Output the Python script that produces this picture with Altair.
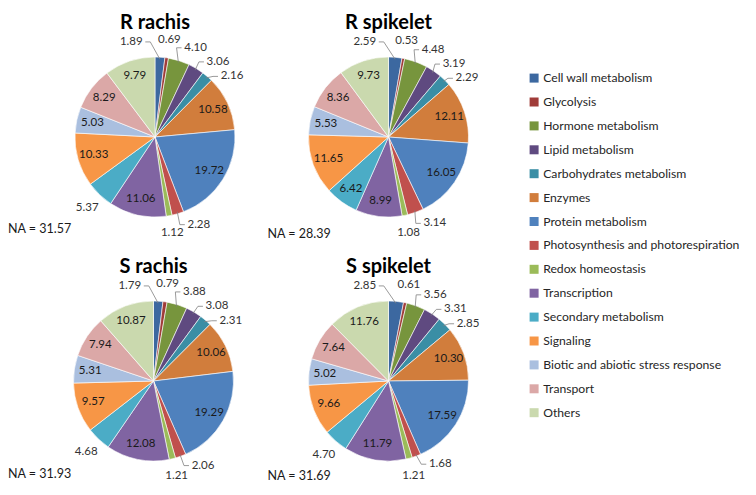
import math
import altair as alt
import pandas as pd

# ---------------- data ----------------
categories = [
    "Cell wall metabolism", "Glycolysis", "Hormone metabolism", "Lipid metabolism",
    "Carbohydrates metabolism", "Enzymes", "Protein metabolism",
    "Photosynthesis and photorespiration", "Redox homeostasis", "Transcription",
    "Secondary metabolism", "Signaling", "Biotic and abiotic stress response",
    "Transport", "Others",
]
r_rachis = [1.89, 0.69, 4.10, 3.06, 2.16, 10.58, 19.72, 2.28, 1.12, 11.06, 5.37, 10.33, 5.03, 8.29, 9.79]
r_spikelet = [2.59, 0.53, 4.48, 3.19, 2.29, 12.11, 16.05, 3.14, 1.08, 8.99, 6.42, 11.65, 5.53, 8.36, 9.73]
s_rachis = [1.79, 0.79, 3.88, 3.08, 2.31, 10.06, 19.29, 2.06, 1.21, 12.08, 4.68, 9.57, 5.31, 7.94, 10.87]
s_spikelet = [2.85, 0.61, 3.56, 3.31, 2.85, 10.30, 17.59, 1.68, 1.21, 11.79, 4.70, 9.66, 5.02, 7.64, 11.76]
panel_titles = ["R rachis", "R spikelet", "S rachis", "S spikelet"]
na_values = [31.57, 28.39, 31.93, 31.69]
series = [r_rachis, r_spikelet, s_rachis, s_spikelet]

# ---------------- style / layout ----------------
colors = [
    "#3C68A0", "#A03C39", "#77953D", "#5F4A80", "#3A8EA5", "#D17D3C",
    "#4F81BD", "#C0504D", "#9BBB59", "#8064A2", "#4BACC6", "#F79646",
    "#AABFDF", "#DBA8A7", "#CAD9AE",
]
FONT = "Lato"
W, H = 740, 479
R = 80          # pie radius
IN_R = 64       # radius of inside labels
OUT_R = 98      # radius of outside labels
BOX_H = 14
LABEL_SIZE = 11.5
INSIDE_MIN = {"Secondary metabolism": 6.0}
DEFAULT_INSIDE_MIN = 5.0
centers = [(147, 129), (380.5, 129), (145.5, 373), (380.5, 373)]
na_off = [(-147, 92), (-121, 97), (-145.5, 93), (-121, 95)]
TITLE_DY = -114

arc_rows, in_rows, out_rows, lead_rows, title_rows, na_rows = [], [], [], [], [], []
lead_id = 0


def box_pos(o):
    return OUT_R * math.sin(o["ang"]), -OUT_R * math.cos(o["ang"])


def overlap(a, b):
    ax, ay = box_pos(a)
    bx, by = box_pos(b)
    return abs(ax - bx) < (a["w"] + b["w"]) / 2 and abs(ay - by) < BOX_H


def place_group(group, placed, direction):
    step = direction * math.radians(0.5)
    for o in group:
        if not o["fixed"]:
            n = 0
            while any(overlap(o, q) for q in placed) and n < 120:
                o["ang"] += step
                n += 1
        placed.append(o)


for p, values in enumerate(series):
    cx, cy = centers[p]
    total = sum(values)
    cum = 0.0
    mids = []
    for i, v in enumerate(values):
        f0 = cum / total
        cum += v
        f1 = cum / total
        arc_rows.append(dict(category=categories[i], f0=f0, f1=f1, cx=cx, cy=cy))
        mids.append((f0 + f1) * math.pi)
    outs = []
    for i, v in enumerate(values):
        txt = f"{v:.2f}"
        am = mids[i]
        if v >= INSIDE_MIN.get(categories[i], DEFAULT_INSIDE_MIN):
            in_rows.append(dict(text=txt, x=cx + IN_R * math.sin(am), y=cy - IN_R * math.cos(am)))
        else:
            outs.append(dict(i=i, text=txt, am=am, ang=am, fixed=False, w=len(txt) * 6.0 + 2))
    if outs and outs[0]["i"] == 0:
        outs[0]["ang"] = math.radians(-14)
        outs[0]["fixed"] = True

    # labels are pushed away from 12 and 6 o'clock, toward the horizontal
    deg = lambda o: math.degrees(o["am"])
    upper_right = [o for o in outs if deg(o) < 90]
    lower_right = [o for o in outs if 90 <= deg(o) < 180]
    lower_left = [o for o in outs if 180 <= deg(o) < 270]
    upper_left = [o for o in outs if deg(o) >= 270]
    placed = []
    place_group(upper_right, placed, +1)
    place_group(list(reversed(lower_right)), placed, -1)
    place_group(lower_left, placed, +1)
    place_group(list(reversed(upper_left)), placed, -1)

    for o in outs:
        dx, dy = box_pos(o)
        lx, ly = cx + dx, cy + dy
        out_rows.append(dict(text=o["text"], x=lx, y=ly))
        if o["fixed"] or abs(o["ang"] - o["am"]) > math.radians(4):
            sx = cx + (R - 2) * math.sin(o["am"])
            sy = cy - (R - 2) * math.cos(o["am"])
            if lx > sx:
                start = lx - o["w"] / 2 - 1
                elbow = start - 5
            else:
                start = lx + o["w"] / 2 + 1
                elbow = start + 5
            for k, (px, py) in enumerate([(start, ly), (elbow, ly), (sx, sy)]):
                lead_rows.append(dict(lid=lead_id, k=k, x=px, y=py))
            lead_id += 1
    title_rows.append(dict(text=panel_titles[p], x=cx, y=cy + TITLE_DY))
    na_rows.append(dict(text=f"NA = {na_values[p]:.2f}", x=cx + na_off[p][0], y=cy + na_off[p][1]))

arc_df = pd.DataFrame(arc_rows)
in_df = pd.DataFrame(in_rows)
out_df = pd.DataFrame(out_rows)
lead_df = pd.DataFrame(lead_rows)
title_df = pd.DataFrame(title_rows)
na_df = pd.DataFrame(na_rows)

xs = alt.Scale(domain=[0, W], nice=False, zero=False)
ys = alt.Scale(domain=[0, H], nice=False, zero=False, reverse=True)
X = lambda f: alt.X(f, type="quantitative", scale=xs, axis=None)
Y = lambda f: alt.Y(f, type="quantitative", scale=ys, axis=None)

arcs = alt.Chart(arc_df).mark_arc(radius=R, stroke="#ffffff", strokeWidth=0.6).encode(
    x=X("cx"), y=Y("cy"),
    theta=alt.Theta("f0:Q", scale=alt.Scale(domain=[0, 1], range=[0, 2 * math.pi])),
    theta2="f1:Q",
    color=alt.Color(
        "category:N",
        scale=alt.Scale(domain=categories, range=colors),
        legend=alt.Legend(
            title=None, orient="none", legendX=520, legendY=64,
            symbolType="square", symbolSize=81, symbolStrokeWidth=0,
            labelFont=FONT, labelFontSize=12.2, labelColor="#262626",
            labelOffset=3, labelLimit=400, rowPadding=10.9, padding=0,
        ),
    ),
)

leaders = alt.Chart(lead_df).mark_line(color="#808080", strokeWidth=0.8).encode(
    x=X("x"), y=Y("y"), detail="lid:N", order="k:Q"
)
in_text = alt.Chart(in_df).mark_text(font=FONT, fontSize=LABEL_SIZE, color="#1a1a1a").encode(
    x=X("x"), y=Y("y"), text="text:N"
)
out_text = alt.Chart(out_df).mark_text(font=FONT, fontSize=LABEL_SIZE, color="#333333").encode(
    x=X("x"), y=Y("y"), text="text:N"
)
titles = alt.Chart(title_df).mark_text(font=FONT, fontSize=20, fontWeight="bold", color="#000000").encode(
    x=X("x"), y=Y("y"), text="text:N"
)
na_text = alt.Chart(na_df).mark_text(font=FONT, fontSize=12.5, align="left", color="#1a1a1a").encode(
    x=X("x"), y=Y("y"), text="text:N"
)

chart = alt.layer(arcs, leaders, in_text, out_text, titles, na_text).properties(
    width=W, height=H, autosize="none", padding=0
).configure_view(stroke=None)

chart.save("out.html", embed_options={"renderer": "svg", "actions": False})
